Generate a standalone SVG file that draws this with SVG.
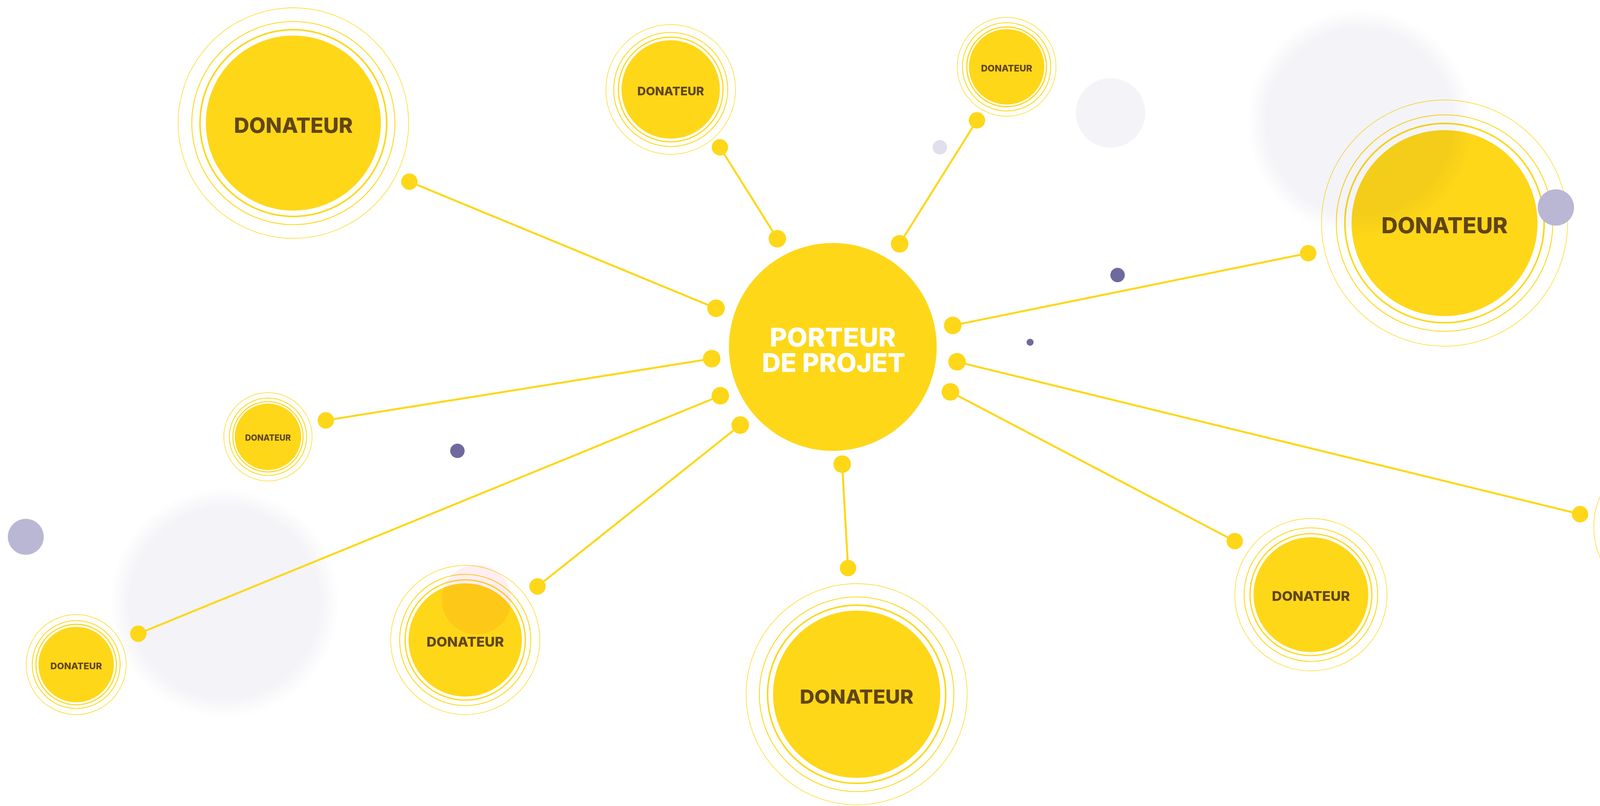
<svg xmlns="http://www.w3.org/2000/svg" width="4467" height="2063" viewBox="0 0 4467 2063">
<style>
.fill{fill:#fed719}
.r1{fill:none;stroke:#fed719;stroke-width:4}
.r2{fill:none;stroke:#fed719;stroke-width:2.2}
.r3{fill:none;stroke:#fed719;stroke-width:1.4}
.lbl{font-family:Inter,"Liberation Sans",sans-serif;font-weight:800;fill:#614516;text-anchor:middle}
.main{font-family:Inter,"Liberation Sans",sans-serif;font-weight:800;fill:#ffffff;text-anchor:middle}
.conn line{stroke:#fed719;stroke-width:5}
.conn circle{fill:#fed719}
</style>
<defs>
<radialGradient id="blob">
<stop offset="0" stop-color="#f3f3f8"/>
<stop offset="0.82" stop-color="#f4f4f8"/>
<stop offset="1" stop-color="#f4f4f8" stop-opacity="0"/>
</radialGradient>
</defs>
<rect width="4467" height="2063" fill="#ffffff"/>
<g id="background">
<circle cx="575" cy="1543" r="295" fill="url(#blob)"/>
<circle cx="2843" cy="289" r="89" fill="#f4f4f8"/>
<circle cx="2406" cy="377" r="18.5" fill="#e0dfeb"/>
<circle cx="2861" cy="704" r="18.5" fill="#6e6a9e"/>
<circle cx="2637" cy="876" r="9" fill="#6e6a9e"/>
<circle cx="1171" cy="1154" r="18.5" fill="#6e6a9e"/>
<circle cx="4283" cy="163" r="9" fill="#ffb3d5"/>
<circle cx="66" cy="1374" r="46" fill="#b9b7d3"/>
</g>
<g id="connectors" class="conn">
<line x1="1990" y1="611" x2="1843" y2="377"/>
<line x1="2303" y1="624" x2="2501" y2="308"/>
<line x1="1833" y1="789" x2="1048" y2="465"/>
<line x1="2439" y1="833" x2="3349" y2="648"/>
<line x1="1822" y1="918" x2="834" y2="1076"/>
<line x1="2450" y1="926" x2="4045" y2="1316"/>
<line x1="2433" y1="1003" x2="3161" y2="1385"/>
<line x1="1844" y1="1013" x2="354" y2="1622"/>
<line x1="1895" y1="1088" x2="1376" y2="1501"/>
<line x1="2156" y1="1188" x2="2171" y2="1454"/>
<circle cx="1990" cy="611" r="22.5"/><circle cx="1843" cy="377" r="21"/>
<circle cx="2303" cy="624" r="22.5"/><circle cx="2501" cy="308" r="21"/>
<circle cx="1833" cy="789" r="22.5"/><circle cx="1048" cy="465" r="21"/>
<circle cx="2439" cy="833" r="22.5"/><circle cx="3349" cy="648" r="21"/>
<circle cx="1822" cy="918" r="22.5"/><circle cx="834" cy="1076" r="21"/>
<circle cx="2450" cy="926" r="22.5"/><circle cx="4045" cy="1316" r="21"/>
<circle cx="2433" cy="1003" r="22.5"/><circle cx="3161" cy="1385" r="21"/>
<circle cx="1844" cy="1013" r="22.5"/><circle cx="354" cy="1622" r="21"/>
<circle cx="1895" cy="1088" r="22.5"/><circle cx="1376" cy="1501" r="21"/>
<circle cx="2156" cy="1188" r="22.5"/><circle cx="2171" cy="1454" r="21"/>
</g>
<g id="porteur">
<circle cx="2132" cy="888" r="266" class="fill"/>
<text class="main" font-size="66"><tspan x="2132" y="887" textLength="323" lengthAdjust="spacingAndGlyphs">PORTEUR</tspan><tspan x="2134" y="952" textLength="367" lengthAdjust="spacingAndGlyphs">DE PROJET</tspan></text>
</g>
<g id="donateur-1">
<circle cx="751" cy="315" r="224" class="fill"/>
<circle cx="751" cy="315" r="239" class="r1"/>
<circle cx="751" cy="315" r="260" class="r2"/>
<circle cx="751" cy="315" r="295" class="r3"/>
<text x="751" y="340" class="lbl" font-size="53" textLength="304" lengthAdjust="spacingAndGlyphs">DONATEUR</text>
</g>
<g id="donateur-2">
<circle cx="1717" cy="229" r="126" class="fill"/>
<circle cx="1717" cy="229" r="134" class="r1" style="stroke-width:3"/>
<circle cx="1717" cy="229" r="146" class="r2"/>
<circle cx="1717" cy="229" r="166" class="r3"/>
<text x="1717" y="243.5" class="lbl" font-size="30" textLength="171" lengthAdjust="spacingAndGlyphs">DONATEUR</text>
</g>
<g id="donateur-3">
<circle cx="2577" cy="171" r="96.5" class="fill"/>
<circle cx="2577" cy="171" r="102" class="r1" style="stroke-width:3"/>
<circle cx="2577" cy="171" r="113" class="r2"/>
<circle cx="2577" cy="171" r="126.5" class="r3"/>
<text x="2577" y="182.5" class="lbl" font-size="23" textLength="131" lengthAdjust="spacingAndGlyphs">DONATEUR</text>
</g>
<g id="donateur-4">
<circle cx="3698" cy="571" r="238" class="fill"/>
<circle cx="3698" cy="571" r="255" class="r1"/>
<circle cx="3698" cy="571" r="277" class="r2"/>
<circle cx="3698" cy="571" r="315" class="r3"/>
<text x="3698" y="597" class="lbl" font-size="56" textLength="323" lengthAdjust="spacingAndGlyphs">DONATEUR</text>
</g>
<g id="donateur-5">
<circle cx="686" cy="1118" r="85" class="fill"/>
<circle cx="686" cy="1118" r="90" class="r1" style="stroke-width:2.6"/>
<circle cx="686" cy="1118" r="99" class="r2"/>
<circle cx="686" cy="1118" r="113" class="r3"/>
<text x="686" y="1128" class="lbl" font-size="21" textLength="117" lengthAdjust="spacingAndGlyphs">DONATEUR</text>
</g>
<g id="donateur-6">
<circle cx="195" cy="1701" r="96.5" class="fill"/>
<circle cx="195" cy="1701" r="103" class="r1" style="stroke-width:2.8"/>
<circle cx="195" cy="1701" r="112.5" class="r2"/>
<circle cx="195" cy="1701" r="128" class="r3"/>
<text x="195" y="1713" class="lbl" font-size="23" textLength="132" lengthAdjust="spacingAndGlyphs">DONATEUR</text>
</g>
<g id="donateur-7">
<circle cx="1191" cy="1638" r="145" class="fill"/>
<circle cx="1191" cy="1638" r="154" class="r1" style="stroke-width:3.2"/>
<circle cx="1191" cy="1638" r="168" class="r2"/>
<circle cx="1191" cy="1638" r="191" class="r3"/>
<text x="1191" y="1655" class="lbl" font-size="34" textLength="198" lengthAdjust="spacingAndGlyphs">DONATEUR</text>
</g>
<g id="donateur-8">
<circle cx="2193" cy="1777" r="214" class="fill"/>
<circle cx="2193" cy="1777" r="228" class="r1"/>
<circle cx="2193" cy="1777" r="249" class="r2"/>
<circle cx="2193" cy="1777" r="283" class="r3"/>
<text x="2193" y="1801" class="lbl" font-size="50" textLength="291" lengthAdjust="spacingAndGlyphs">DONATEUR</text>
</g>
<g id="donateur-9">
<circle cx="3356" cy="1522" r="147" class="fill"/>
<circle cx="3356" cy="1522" r="156" class="r1" style="stroke-width:3.2"/>
<circle cx="3356" cy="1522" r="171" class="r2"/>
<circle cx="3356" cy="1522" r="195" class="r3"/>
<text x="3356" y="1538" class="lbl" font-size="34" textLength="200" lengthAdjust="spacingAndGlyphs">DONATEUR</text>
</g>
<g id="donateur-10">
<circle cx="4274" cy="1349" r="147" class="fill"/>
<circle cx="4274" cy="1349" r="157" class="r1" style="stroke-width:3.2"/>
<circle cx="4274" cy="1349" r="171" class="r2"/>
<circle cx="4274" cy="1349" r="194" class="r3"/>
<text x="4274" y="1365" class="lbl" font-size="35" textLength="200" lengthAdjust="spacingAndGlyphs">DONATEUR</text>
</g>
<g id="overlays">
<circle cx="3481" cy="313" r="290" fill="url(#blob)" style="mix-blend-mode:multiply"/>
<circle cx="1220" cy="1535" r="89" fill="#ffeef3" style="mix-blend-mode:multiply"/>
<circle cx="3983" cy="531" r="46.5" fill="#b9b7d3"/>
</g>
</svg>
